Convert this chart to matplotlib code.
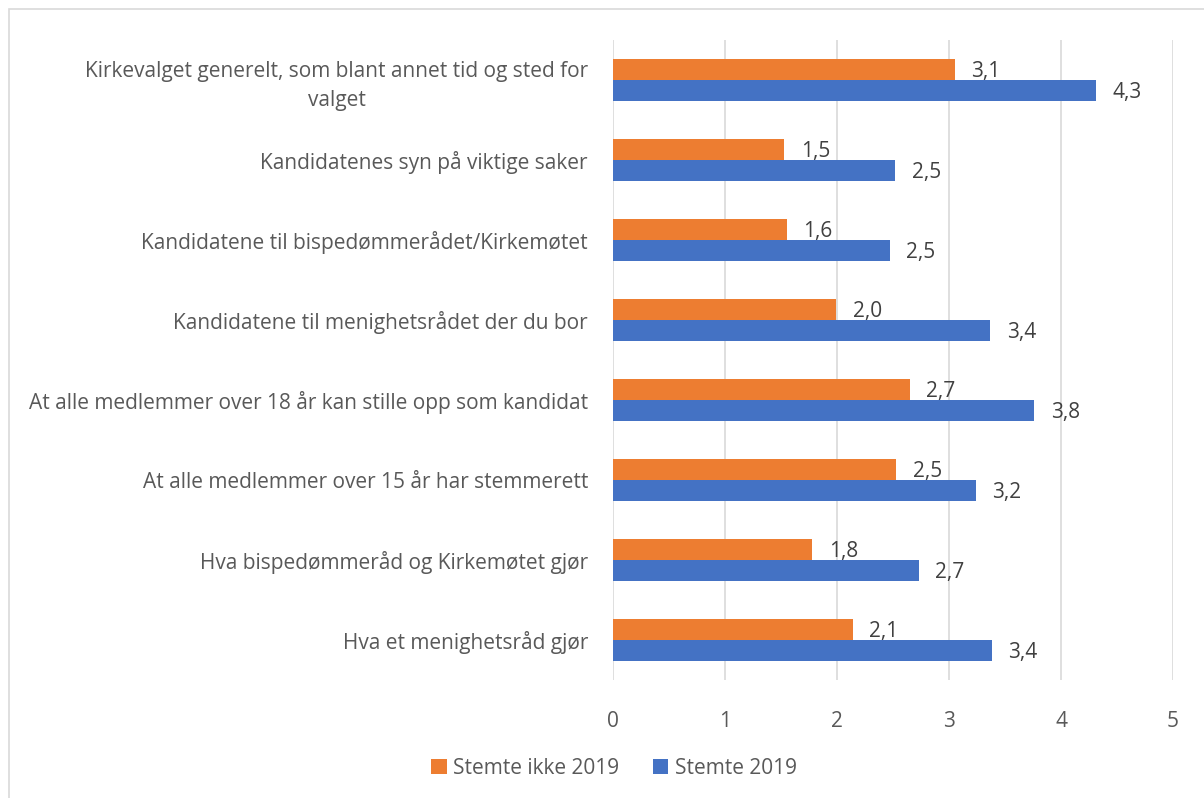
import numpy as np
import matplotlib.pyplot as plt
from matplotlib.patches import Rectangle

categories = [
  'Kirkevalget generelt, som blant annet tid og sted for\nvalget',
  'Kandidatenes syn på viktige saker',
  'Kandidatene til bispedømmerådet/Kirkemøtet',
  'Kandidatene til menighetsrådet der du bor',
  'At alle medlemmer over 18 år kan stille opp som kandidat',
  'At alle medlemmer over 15 år har stemmerett',
  'Hva bispedømmeråd og Kirkemøtet gjør',
  'Hva et menighetsråd gjør',
]
ikke_values = [3.05, 1.53, 1.55, 1.99, 2.65, 2.53, 1.78, 2.14]
ikke_labels = ['3,1', '1,5', '1,6', '2,0', '2,7', '2,5', '1,8', '2,1']
stemte_values = [4.31, 2.52, 2.47, 3.37, 3.76, 3.24, 2.73, 3.38]
stemte_labels = ['4,3', '2,5', '2,5', '3,4', '3,8', '3,2', '2,7', '3,4']
x_ticks = [0, 1, 2, 3, 4, 5]

ORANGE = '#ED7D31'
BLUE = '#4472C4'
TEXT = '#595959'
GRID = '#D9D9D9'

plt.rcParams['font.family'] = ['Open Sans', 'DejaVu Sans']
FS = 15

W, H = 1204, 798
fig = plt.figure(figsize=(W / 100, H / 100), dpi=100)
ax = fig.add_axes((613 / W, 1 - 680 / H, 560 / W, 640 / H))

# outer chart border (only top/left visible in the crop)
fig.patches.append(Rectangle((9 / W, -0.1), 1.2, 1 - 9 / H + 0.1, transform=fig.transFigure,
                             fill=False, edgecolor=GRID, linewidth=1.2))

n = len(categories)
y = np.arange(n)[::-1]
h = 0.265
b1 = ax.barh(y + h / 2, ikke_values, height=h, color=ORANGE, label='Stemte ikke 2019')
b2 = ax.barh(y - h / 2, stemte_values, height=h, color=BLUE, label='Stemte 2019')

for bars, labels in ((b1, ikke_labels), (b2, stemte_labels)):
  for bar, lab in zip(bars, labels):
    ax.annotate(lab, (bar.get_width(), bar.get_y() + bar.get_height() / 2),
                xytext=(12, -1.5), textcoords='offset points', va='center', ha='left',
                color='#404040', fontsize=FS)

ax.set_xlim(0, 5)
ax.set_ylim(-0.5, n - 0.5)
ax.set_xticks(x_ticks)
ax.set_xticklabels([str(t) for t in x_ticks], color=TEXT, fontsize=FS)
ax.set_yticks(y)
ax.set_yticklabels(categories, color=TEXT, fontsize=FS, linespacing=1.45,
                   multialignment='center')
ax.tick_params(axis='both', length=0)
ax.tick_params(axis='y', pad=18)
ax.tick_params(axis='x', pad=22)
ax.grid(axis='x', color=GRID, linewidth=1.2)
ax.set_axisbelow(True)
for s in ax.spines.values():
  s.set_visible(False)

fig.legend(handles=[b1, b2], loc='center', bbox_to_anchor=(614 / W, 1 - 768 / H),
           ncol=2, frameon=False, fontsize=FS, handlelength=0.75, handleheight=0.75,
           handletextpad=0.3, columnspacing=1.6, labelcolor=TEXT)

fig.savefig('out.png', dpi=100)
